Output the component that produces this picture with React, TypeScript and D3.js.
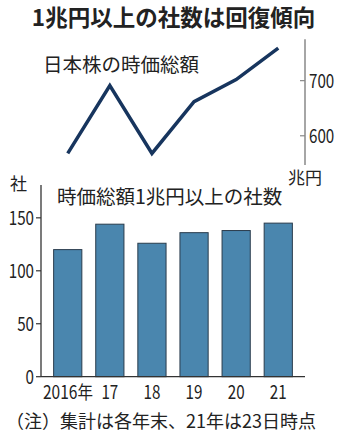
import React from "react";
import * as d3 from "d3";

const years = ["2016年", "17", "18", "19", "20", "21"];
const marketCap = [568, 691, 568, 662, 702, 759];
const companies = [120, 144, 126, 136, 138, 145];
const capTicks = [600, 700];
const countTicks = [0, 50, 100, 150];

const W = 345;
const H = 438;
const FONT = "'Noto Sans CJK JP', 'Noto Sans', sans-serif";
const TXT = "#222";

export default function App() {
  const x = d3.scaleBand<string>().domain(years).range([41, 305]).paddingInner(0.33).paddingOuter(0.3);
  const yLine = d3.scaleLinear().domain([547, 775]).range([165, 39.3]);
  const yBar = d3.scaleLinear().domain([0, 181]).range([376.7, 185]);

  const line = d3
    .line<number>()
    .x((_, i) => (x(years[i]) as number) + x.bandwidth() / 2)
    .y((d) => yLine(d));

  const num = (
    s: string,
    px: number,
    py: number,
    anchor: "start" | "end" | "middle",
    size = 19,
    sx = 0.8
  ) => (
    <text
      key={s + px + py}
      transform={`translate(${px},${py}) scale(${sx},1)`}
      textAnchor={anchor}
      fontSize={size}
      fill={TXT}
      fontFamily={FONT}
    >
      {s}
    </text>
  );

  return (
    <svg
      width={W}
      height={H}
      style={{ position: "absolute", left: 0, top: 0, background: "#fff" }}
      fontFamily={FONT}
    >
      <text x={W / 2 + 1} y={26} textAnchor="middle" fontSize={22.5} fontWeight="bold" fill={TXT}>
        1兆円以上の社数は回復傾向
      </text>

      {/* top line chart */}
      <text x={43} y={72} fontSize={19.5} fill={TXT}>
        日本株の時価総額
      </text>
      <line x1={305} x2={305} y1={yLine.range()[1]} y2={yLine.range()[0]} stroke="#888" strokeWidth={1.5} />
      {capTicks.map((t) => (
        <g key={t}>
          <line x1={300} x2={305} y1={yLine(t)} y2={yLine(t)} stroke="#888" strokeWidth={1.2} />
          {num(String(t), 309, yLine(t) + 7, "start")}
        </g>
      ))}
      <text x={288} y={184} fontSize={17} fill={TXT}>
        兆円
      </text>
      <path d={line(marketCap) || ""} fill="none" stroke="#17355e" strokeWidth={3.5} strokeLinejoin="miter" />

      {/* bar chart */}
      <text x={10} y={190} fontSize={17} fill={TXT}>
        社
      </text>
      <text x={57} y={204} fontSize={19.5} fill={TXT}>
        時価総額1兆円以上の社数
      </text>
      {companies.map((v, i) => (
        <rect
          key={years[i]}
          x={x(years[i])}
          y={yBar(v)}
          width={x.bandwidth()}
          height={yBar(0) - yBar(v)}
          fill="#4a86ae"
          stroke="#2a3c4c"
          strokeWidth={1}
        />
      ))}
      <line x1={41} x2={41} y1={yBar.range()[1]} y2={yBar(0)} stroke="#333" strokeWidth={1.3} />
      <line x1={41} x2={305} y1={yBar(0)} y2={yBar(0)} stroke="#333" strokeWidth={1.3} />
      {countTicks.map((t) => (
        <g key={t}>
          <line x1={36} x2={41} y1={yBar(t)} y2={yBar(t)} stroke="#333" strokeWidth={1.2} />
          {num(String(t), 34, yBar(t) + 7, "end")}
        </g>
      ))}
      {years.map((yr, i) =>
        i === 0
          ? num(yr, 43, 399, "start", 18.5, 0.84)
          : num(yr, (x(yr) as number) + x.bandwidth() / 2, 399, "middle", 19)
      )}

      <text x={6} y={428} fontSize={18} fill={TXT}>
        （注）集計は各年末、21年は23日時点
      </text>
    </svg>
  );
}
